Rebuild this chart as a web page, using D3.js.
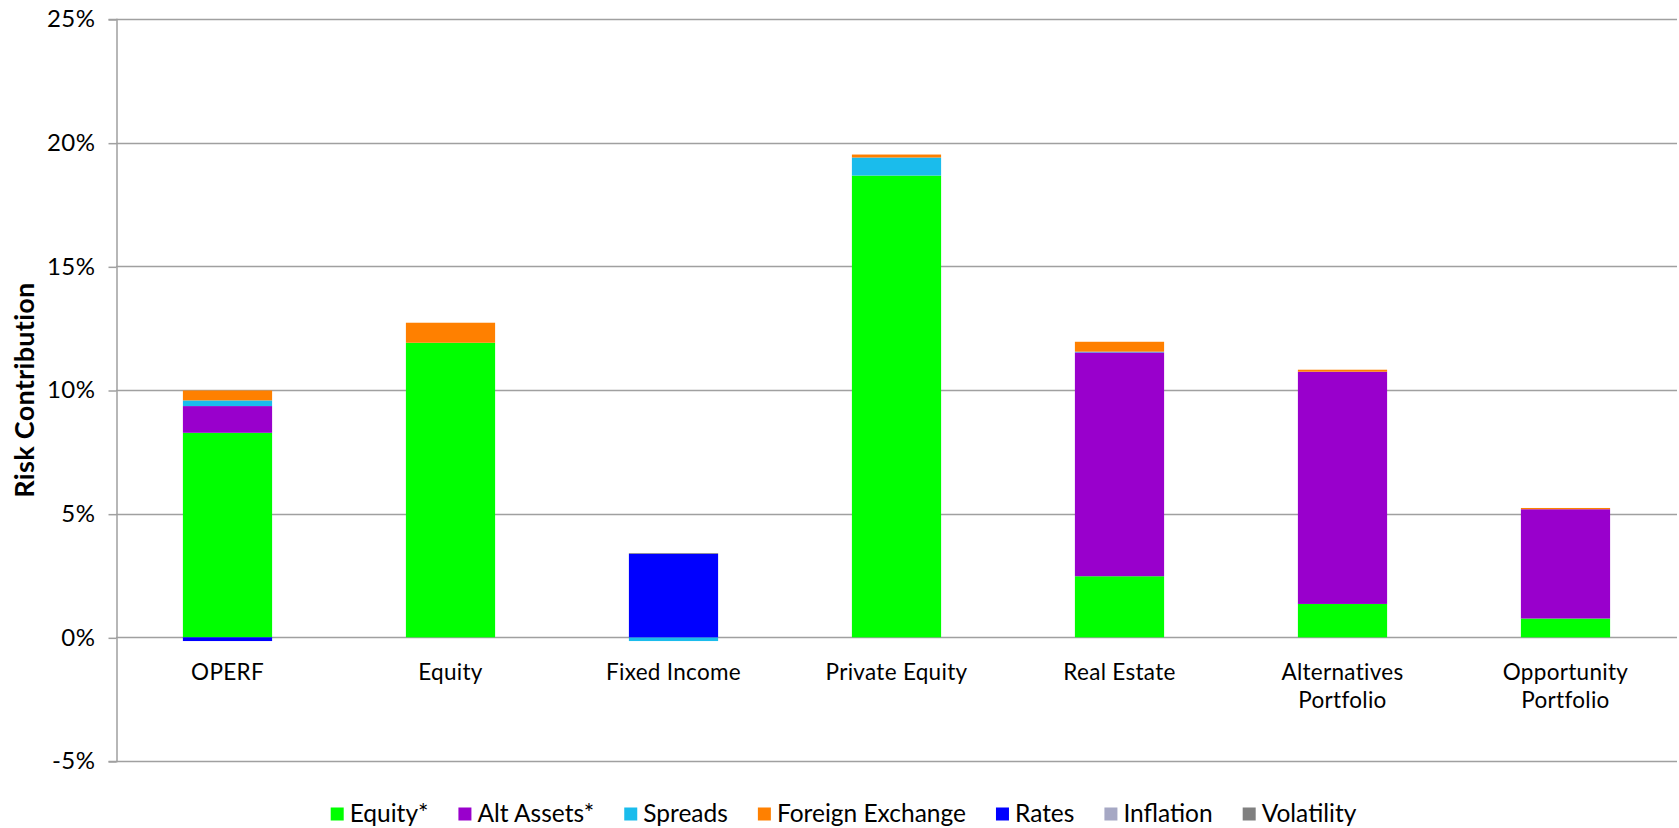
<!DOCTYPE html>
<html>
<head>
<meta charset="utf-8">
<script src="https://cdn.jsdelivr.net/npm/d3@7"></script>
<style>
  html, body { margin: 0; padding: 0; background: #fff; }
  svg { display: block; }
  text { font-family: Lato, "Open Sans", sans-serif; fill: #000; }
</style>
</head>
<body>
<svg id="chart" width="1679" height="828"></svg>
<script>
// Categories (line breaks split the axis labels)
const categories = ["OPERF", "Equity", "Fixed Income", "Private Equity", "Real Estate", "Alternatives\nPortfolio", "Opportunity\nPortfolio"];

// Risk contribution by factor, in percent
const equityStar   = [8.27, 11.91, 0.00, 18.67, 2.47, 1.35, 0.76];
const altAssets    = [1.08, 0.00, 0.00, 0.00, 9.05, 9.39, 4.42];
const spreads      = [0.23, 0.00, -0.15, 0.73, 0.03, 0.00, 0.00];
const foreignExch  = [0.40, 0.81, 0.00, 0.12, 0.40, 0.08, 0.05];
const rates        = [-0.15, 0.00, 3.38, 0.00, 0.00, 0.00, 0.00];
const inflation    = [0.00, 0.00, 0.00, 0.00, 0.00, 0.00, 0.00];
const volatility   = [0.00, 0.00, 0.03, 0.00, 0.00, 0.00, 0.00];

const seriesNames  = ["Equity*", "Alt Assets*", "Spreads", "Foreign Exchange", "Rates", "Inflation", "Volatility"];
const seriesColors = ["#00ff00", "#9900cc", "#1abcec", "#ff8000", "#0000ff", "#a6a8c4", "#808080"];
const seriesValues = [equityStar, altAssets, spreads, foreignExch, rates, inflation, volatility];

const yTicks = [-5, 0, 5, 10, 15, 20, 25];

// Row-per-category table for d3.stack
const table = categories.map((c, i) => {
  const row = { category: c };
  seriesNames.forEach((s, j) => { row[s] = seriesValues[j][i]; });
  return row;
});

const svg = d3.select("#chart");
const W = 1679, H = 828;
const margin = { left: 116, right: 2, top: 19, bottom: 67 };
const FONT = 24.5;

const x = d3.scaleBand()
  .domain(categories)
  .range([margin.left, W - margin.right])
  .paddingInner(0.6)
  .paddingOuter(0.3);

const y = d3.scaleLinear()
  .domain([-5, 25])
  .range([H - margin.bottom, margin.top]);

// Horizontal gridlines
svg.append("g")
  .selectAll("line")
  .data(yTicks)
  .join("line")
  .attr("x1", margin.left)
  .attr("x2", W - margin.right)
  .attr("y1", d => Math.round(y(d)) + 0.5)
  .attr("y2", d => Math.round(y(d)) + 0.5)
  .attr("stroke", "#a0a0a0")
  .attr("stroke-width", 1.5);

// Left axis
const yAxis = d3.axisLeft(y)
  .tickValues(yTicks)
  .tickFormat(d => d + "%")
  .tickSize(8)
  .tickPadding(13);

const gy = svg.append("g")
  .attr("transform", `translate(${margin.left + 0.5},0)`)
  .call(yAxis);
gy.select(".domain").attr("stroke", "#a0a0a0").attr("stroke-width", 1.5);
gy.selectAll(".tick line").attr("stroke", "#a0a0a0").attr("stroke-width", 1.5)
  .attr("transform", "translate(0,0.5)");
gy.selectAll(".tick text")
  .style("font-family", "Lato, 'Open Sans', sans-serif")
  .style("font-size", "24px")
  .style("letter-spacing", "0.5px")
  .attr("fill", "#000");

// Stacked bars (negatives stack below zero)
const stack = d3.stack()
  .keys(seriesNames)
  .offset(d3.stackOffsetDiverging);
const layers = stack(table);

svg.append("g")
  .selectAll("g")
  .data(layers)
  .join("g")
  .attr("fill", (d, i) => seriesColors[i])
  .selectAll("rect")
  .data(d => d)
  .join("rect")
  .attr("x", d => x(d.data.category))
  .attr("width", x.bandwidth())
  .attr("y", d => y(Math.max(d[0], d[1])))
  .attr("height", d => Math.abs(y(d[0]) - y(d[1])));

// Category labels
const xl = svg.append("g");
categories.forEach(c => {
  const lines = c.split("\n");
  const t = xl.append("text")
    .attr("x", x(c) + x.bandwidth() / 2)
    .attr("y", 680)
    .attr("text-anchor", "middle")
    .style("font-size", "22.5px")
    .style("letter-spacing", "0.3px");
  lines.forEach((ln, k) => {
    t.append("tspan")
      .attr("x", x(c) + x.bandwidth() / 2)
      .attr("dy", k === 0 ? 0 : 27.5)
      .text(ln);
  });
});

// Y axis title
svg.append("text")
  .attr("transform", `translate(34,${(y(25) + y(-5)) / 2}) rotate(-90)`)
  .attr("text-anchor", "middle")
  .style("font-size", "27px")
  .style("font-weight", "bold")
  .style("letter-spacing", "0.3px")
  .text("Risk Contribution");

// Legend
const legend = svg.append("g");
const sq = 13, gapText = 6, gapItem = 30;
let cursor = 0;
seriesNames.forEach((name, i) => {
  const g = legend.append("g");
  g.append("rect")
    .attr("x", 0).attr("y", -sq / 2 - 8)
    .attr("width", sq).attr("height", sq)
    .attr("fill", seriesColors[i]);
  const t = g.append("text")
    .attr("x", sq + gapText).attr("y", 0)
    .style("font-size", FONT + "px")
    .text(name);
  const w = sq + gapText + t.node().getComputedTextLength();
  g.attr("transform", `translate(${cursor},0)`);
  cursor += w + gapItem;
});
const total = cursor - gapItem;
legend.attr("transform", `translate(${(W - total) / 2 + 4},822)`);
</script>
</body>
</html>
